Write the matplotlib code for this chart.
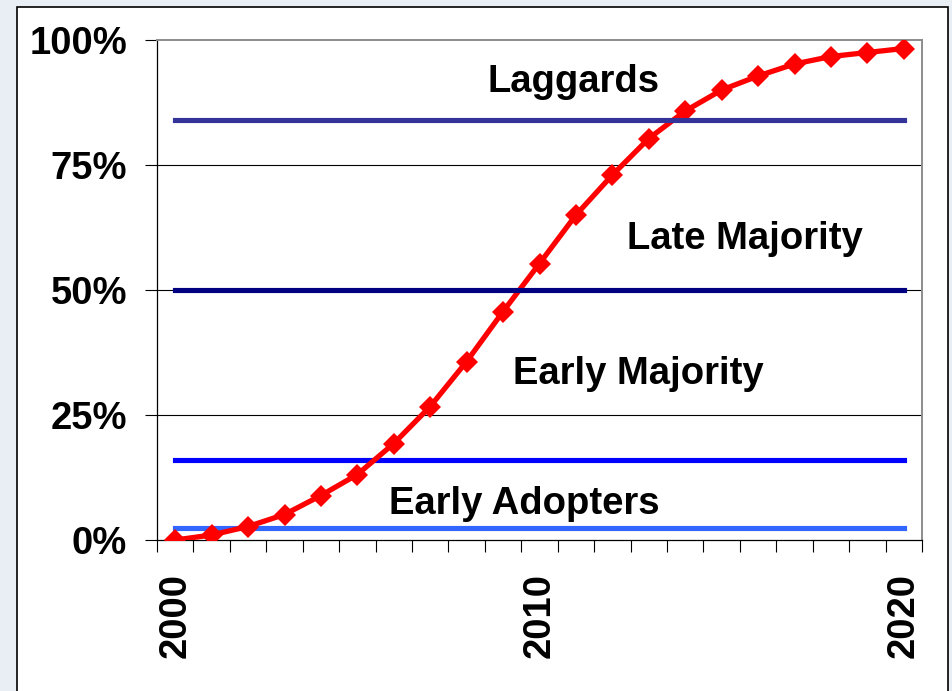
import matplotlib.pyplot as plt
from matplotlib.patches import Rectangle

# adoption curve, percent of market
years = list(range(2000, 2021))
adoption = [0.0, 1.0, 2.7, 5.1, 8.9, 13.1, 19.3, 26.7, 35.7, 45.7, 55.3,
            65.0, 73.0, 80.3, 85.8, 90.0, 92.8, 95.2, 96.7, 97.5, 98.3]

# segment boundaries (percent)
boundaries = [2.5, 16.0, 50.0, 84.0]
boundary_colors = ['#3366ff', '#0000ff', '#000080', '#333399']
boundary_z = [2, 2, 4, 4]

# segment labels: text, x (year index), baseline (percent)
seg_labels = ['Early Adopters', 'Early Majority', 'Late Majority', 'Laggards']
seg_x = [9.58, 12.72, 15.64, 10.94]
seg_y = [5.3, 31.3, 58.2, 89.7]

y_ticks = [0, 25, 50, 75, 100]
y_ticklabels = ['0%', '25%', '50%', '75%', '100%']
x_labelled = [2000, 2010, 2020]

plt.rcParams['font.family'] = ['Liberation Sans', 'DejaVu Sans']
plt.rcParams['font.weight'] = 'bold'
FS = 27.5

fig = plt.figure(figsize=(9.52, 6.91), dpi=100, facecolor='#e9eef4')
# white chart frame behind the axes
frame = Rectangle((17 / 952, -0.05), (948 - 17) / 952, 1.05 - 7 / 691,
                  transform=fig.transFigure, facecolor='white',
                  edgecolor='black', linewidth=1.2, zorder=-10)
fig.patches.append(frame)

ax = fig.add_axes([157 / 952, 1 - 540 / 691, (922 - 157) / 952, (540 - 40) / 691])
ax.set_facecolor('white')

x = list(range(len(years)))

for lvl, c, z in zip(boundaries, boundary_colors, boundary_z):
    ax.plot(x, [lvl] * len(x), color=c, lw=3.7, solid_capstyle='projecting', zorder=z)

ax.plot(x, adoption, color='#ff0000', lw=3.8, marker='D', markersize=11,
        markeredgewidth=0, zorder=3)

for t, tx, ty in zip(seg_labels, seg_x, seg_y):
    ax.text(tx, ty, t, ha='center', va='baseline', fontsize=FS,
            fontweight='bold', color='black', zorder=5)

ax.set_xlim(-0.5, len(years) - 0.5)
ax.set_ylim(0, 100)

# gridlines
for g in [25, 50, 75]:
    ax.axhline(g, color='black', lw=0.8, zorder=1)

ax.set_yticks(y_ticks)
ax.set_yticklabels(y_ticklabels, fontsize=FS, fontweight='bold')
ax.tick_params(axis='y', direction='out', length=8.6, width=0.8, pad=13, color='black')

ax.set_xticks([years.index(y) for y in x_labelled])
ax.set_xticklabels([str(y) for y in x_labelled], rotation=90, fontsize=FS,
                   fontweight='bold')
ax.set_xticks([i - 0.5 for i in range(len(years) + 1)], minor=True)
ax.tick_params(axis='x', which='major', length=0, pad=23.5)
ax.tick_params(axis='x', which='minor', direction='out', length=8.6, width=0.8,
               color='black')

for s in ['left', 'bottom']:
    ax.spines[s].set_color('black')
    ax.spines[s].set_linewidth(0.9)
for s in ['top', 'right']:
    ax.spines[s].set_color('#8c8c8c')
    ax.spines[s].set_linewidth(1.4)

fig.savefig('out.png', dpi=100, facecolor=fig.get_facecolor())
